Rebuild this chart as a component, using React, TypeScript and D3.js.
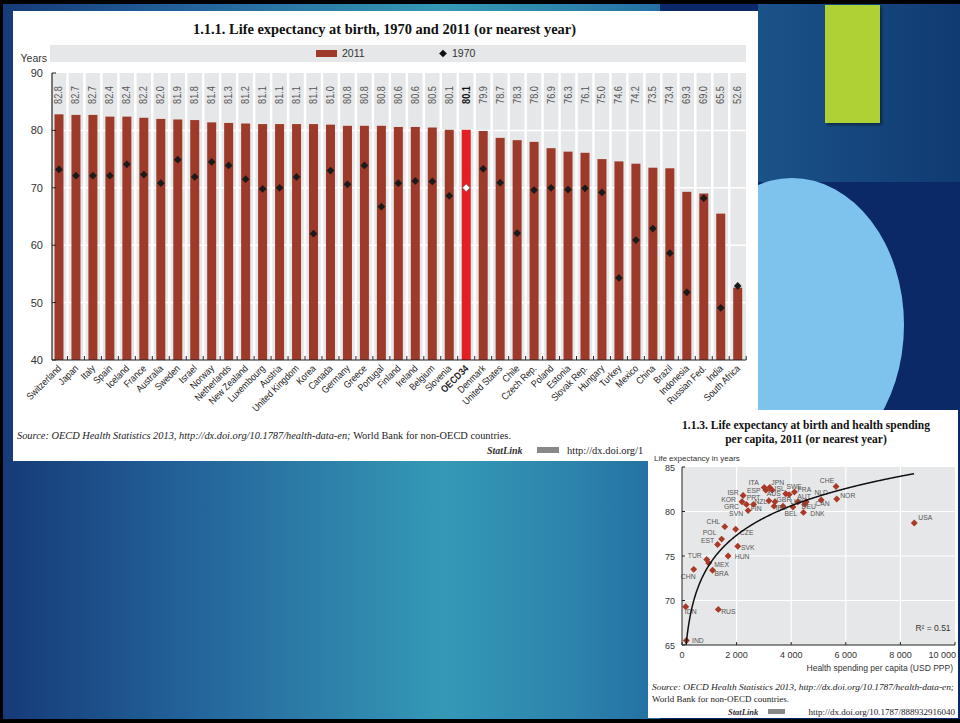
import React from 'react';
import * as d3 from 'd3';

const countries = ['Switzerland','Japan','Italy','Spain','Iceland','France','Australia','Sweden','Israel','Norway','Netherlands','New Zealand','Luxembourg','Austria','United Kingdom','Korea','Canada','Germany','Greece','Portugal','Finland','Ireland','Belgium','Slovenia','OECD34','Denmark','United States','Chile','Czech Rep.','Poland','Estonia','Slovak Rep.','Hungary','Turkey','Mexico','China','Brazil','Indonesia','Russian Fed.','India','South Africa'];
const lifeExp2011 = [82.8,82.7,82.7,82.4,82.4,82.2,82.0,81.9,81.8,81.4,81.3,81.2,81.1,81.1,81.1,81.1,81.0,80.8,80.8,80.8,80.6,80.6,80.5,80.1,80.1,79.9,78.7,78.3,78.0,76.9,76.3,76.1,75.0,74.6,74.2,73.5,73.4,69.3,69.0,65.5,52.6];
const lifeExp1970 = [73.2,72.1,72.1,72.1,74.1,72.3,70.8,74.9,71.9,74.5,73.9,71.5,69.8,70.0,71.9,62.0,73.0,70.6,73.9,66.7,70.8,71.2,71.1,68.6,70.0,73.3,70.9,62.1,69.6,70.0,69.7,69.9,69.2,54.3,60.9,62.9,58.6,51.8,68.2,49.1,52.9];
const barYTicks = [40,50,60,70,80,90];
const highlight = 'OECD34';

const scatterCodes = ['USA','NOR','CHE','NLD','AUT','CAN','DEU','DNK','LUX','FRA','BEL','SWE','AUS','JPN','IRL','ISL','GBR','FIN','NZL','ITA','ESP','SVN','PRT','GRC','ISR','KOR','CZE','SVK','HUN','CHL','POL','EST','TUR','MEX','BRA','CHN','RUS','IDN','IND'];
const healthSpending = [8508,5669,5643,5099,4546,4522,4495,4448,4246,4118,4061,3925,3800,3213,3700,3305,3405,3374,3182,3012,3072,2421,2619,2361,2239,2198,1966,2042,1689,1568,1452,1303,906,977,1120,430,1330,136,160];
const scatterLifeExp = [78.7,81.4,82.8,81.3,81.1,81.0,80.8,79.9,81.1,82.2,80.5,81.9,82.0,82.7,80.6,82.4,81.1,80.6,81.2,82.7,82.4,80.1,80.8,80.8,81.8,81.1,78.0,76.1,75.0,78.3,76.9,76.3,74.6,74.2,73.4,73.5,69.0,69.3,65.5];
const scatterXTicks = [0,2000,4000,6000,8000,10000];
const scatterYTicks = [65,70,75,80,85];
// logarithmic trend: LE = intercept + slope * ln(spending)
const trendIntercept = 41.0;
const trendSlope = 4.78;
const trendDomain = [100, 8520];

// label placement (layout only)
const labelOffsets: Record<string, [number, number]> = {
  USA:[11,-6], NOR:[11,-4], CHE:[-9,-6], NLD:[0,-7], AUT:[-2,-5], CAN:[17,1], DEU:[4,2], DNK:[14,1.5], LUX:[-1,0], FRA:[10,-2],
  BEL:[-2,6], SWE:[5,-8.5], AUS:[-12,0], JPN:[8,-4.5], IRL:[-2,1], ISL:[7.5,-2], GBR:[9,-2], FIN:[-18,2], NZL:[-8,1], ITA:[-10.5,-4.5],
  ESP:[-12,0.5], SVN:[-12,2.5], PRT:[0,-6.5], GRC:[-15,2], ISR:[-10,-3], KOR:[-13.5,-2], CZE:[11,3.5], SVK:[10,1], HUN:[14,0], CHL:[-11.5,-5],
  POL:[-12,-6.5], EST:[-10,-4], TUR:[-12,-4.5], MEX:[13,1.5], BRA:[9,3], CHN:[-5.5,7], RUS:[10,2.5], IDN:[5,5], IND:[11.5,0],
};

const SANS = "'Liberation Sans', Arial, sans-serif";
const SERIF = "'Liberation Serif', 'DejaVu Serif', serif";
const BAR = '#9d3a2a';
const RED = '#e31e24';
const GRAY = '#e6e7e8';

const spaceFmt = d3.formatLocale({ decimal: '.', thousands: ' ', grouping: [3], currency: ['', ''] }).format(',');

function BarChart() {
  const x = d3.scaleBand<string>().domain(countries).range([50.5, 746.2]).padding(0);
  const y = d3.scaleLinear().domain([40, 90]).range([360, 73]);
  const bw = 9;
  const diamond = d3.symbol().type(d3.symbolSquare).size(30)();
  const bounds = countries.map((c) => x(c)!).concat([x.range()[1]]);
  return (
    <g>
      <defs>
        <clipPath id="urlclip"><rect x={13} y={440} width={635} height={20} /></clipPath>
      </defs>
      <rect x={13} y={11} width={745} height={450} fill="#fff" />
      <text x={193} y={34} fontFamily={SERIF} fontWeight="bold" fontSize={14} textLength={383} lengthAdjust="spacingAndGlyphs" fill="#111">1.1.1.  Life expectancy at birth, 1970 and 2011 (or nearest year)</text>
      <rect x={50} y={45} width={696} height={17} fill={GRAY} />
      <rect x={316} y={50} width={21} height={7} fill={BAR} />
      <text x={342} y={57} fontFamily={SANS} fontSize={10.5} fill="#333">2011</text>
      <path d={diamond} transform="translate(443,53.5) rotate(45)" fill="#111" />
      <text x={452} y={57} fontFamily={SANS} fontSize={10.5} fill="#333">1970</text>
      <text x={47} y={62} textAnchor="end" fontFamily={SANS} fontSize={10.5} fill="#333">Years</text>
      <rect x={52} y={73} width={694} height={287} fill={GRAY} />
      {bounds.slice(1, -1).map((b, i) => (
        <line key={'v' + i} x1={b} x2={b} y1={73} y2={360} stroke="#fff" strokeWidth={2.5} />
      ))}
      {barYTicks.filter((t) => t > 40 && t < 90).map((t) => (
        <line key={'h' + t} x1={52} x2={746} y1={y(t)} y2={y(t)} stroke="#fff" strokeWidth={1.5} />
      ))}
      {countries.map((c, i) => (
        <rect key={c} x={x(c)! + x.bandwidth() / 2 - bw / 2} y={y(lifeExp2011[i])} width={bw} height={y(40) - y(lifeExp2011[i])} fill={c === highlight ? RED : BAR} />
      ))}
      {countries.map((c, i) => (
        <path key={'d' + c} d={diamond} transform={`translate(${x(c)! + x.bandwidth() / 2},${y(lifeExp1970[i])}) rotate(45)`} fill={c === highlight ? '#fff' : '#1a1a1a'} stroke={c === highlight ? '#555' : 'none'} strokeWidth={0.6} />
      ))}
      {countries.map((c, i) => (
        <text key={'t' + c} transform={`translate(${x(c)! + x.bandwidth() / 2 + 3.5},95) rotate(-90) scale(0.92,1)`} textAnchor="middle" fontFamily={SANS} fontSize={10} fontWeight={c === highlight ? 'bold' : 'normal'} fill={c === highlight ? '#111' : '#555'}>
          {d3.format('.1f')(lifeExp2011[i])}
        </text>
      ))}
      <line x1={52} x2={52} y1={73} y2={360} stroke="#222" strokeWidth={1.2} />
      <line x1={52} x2={746} y1={360} y2={360} stroke="#222" strokeWidth={1.2} />
      {barYTicks.map((t) => (
        <g key={'yt' + t}>
          <line x1={52} x2={56} y1={y(t)} y2={y(t)} stroke="#222" strokeWidth={1} />
          <text x={43} y={y(t) + 4} textAnchor="end" fontFamily={SANS} fontSize={11} fill="#333">{t}</text>
        </g>
      ))}
      {bounds.slice(1).map((b, i) => (
        <line key={'xt' + i} x1={b} x2={b} y1={356} y2={360} stroke="#222" strokeWidth={1} />
      ))}
      {countries.map((c) => (
        <text key={'xl' + c} transform={`translate(${x(c)! + x.bandwidth() / 2 + 3},369) rotate(-45) scale(0.88,1)`} textAnchor="end" fontFamily={SANS} fontSize={9.8} fontWeight={c === highlight ? 'bold' : 'normal'} fill="#222">{c}</text>
      ))}
      <text x={17} y={439} fontFamily={SERIF} fontSize={10.5} fill="#222" textLength={494} lengthAdjust="spacingAndGlyphs">
        <tspan fontStyle="italic">Source:  OECD Health Statistics 2013, http://dx.doi.org/10.1787/health-data-en; </tspan>
        <tspan>World Bank for non-OECD countries.</tspan>
      </text>
      <text x={487} y={454} fontFamily={SERIF} fontSize={10} fontStyle="italic" fontWeight="bold" fill="#333">StatLink</text>
      <rect x={537} y={447} width={22} height={6} fill="#888" />
      <text x={567} y={454} fontFamily={SERIF} fontSize={10.5} fill="#222" clipPath="url(#urlclip)">http://dx.doi.org/1</text>
    </g>
  );
}

function Scatter() {
  const x = d3.scaleLinear().domain([0, 10000]).range([682, 955]);
  const y = d3.scaleLinear().domain([65, 85]).range([645, 467]);
  const xs = d3.range(trendDomain[0], trendDomain[1], 20);
  const line = d3.line<number>().x((v) => x(v)).y((v) => y(trendIntercept + trendSlope * Math.log(v)));
  const diamond = d3.symbol().type(d3.symbolSquare).size(24)();
  return (
    <g>
      <rect x={648} y={410} width={310} height={308} fill="#fff" />
      <text x={806} y={429} textAnchor="middle" fontFamily={SERIF} fontWeight="bold" fontSize={11.5} fill="#111">1.1.3.  Life expectancy at birth and health spending</text>
      <text x={806} y={443} textAnchor="middle" fontFamily={SERIF} fontWeight="bold" fontSize={11.5} fill="#111">per capita, 2011 (or nearest year)</text>
      <text x={654} y={461} fontFamily={SANS} fontSize={8} fill="#333">Life expectancy in years</text>
      <defs>
        <clipPath id="sclip"><rect x={682} y={460} width={273} height={185} /></clipPath>
      </defs>
      <rect x={682} y={467} width={273} height={178} fill={GRAY} />
      {scatterXTicks.slice(1, -1).map((t) => (
        <line key={'gx' + t} x1={x(t)} x2={x(t)} y1={467} y2={645} stroke="#fff" strokeWidth={1.2} />
      ))}
      {scatterYTicks.slice(1, -1).map((t) => (
        <line key={'gy' + t} x1={682} x2={955} y1={y(t)} y2={y(t)} stroke="#fff" strokeWidth={1.2} />
      ))}
      {scatterCodes.map((c, i) => (
        <path key={c} d={diamond} transform={`translate(${x(healthSpending[i])},${y(scatterLifeExp[i])}) rotate(45)`} fill="#a83a27" />
      ))}
      {scatterCodes.map((c, i) => (
        <text key={'l' + c} x={x(healthSpending[i]) + labelOffsets[c][0]} y={y(scatterLifeExp[i]) + labelOffsets[c][1] + 2.5} textAnchor="middle" fontFamily={SANS} fontSize={6.8} fill="#555">{c}</text>
      ))}
      <path d={line(xs) || ''} fill="none" stroke="#111" strokeWidth={1.5} clipPath="url(#sclip)" />
      <line x1={682} x2={682} y1={467} y2={645} stroke="#222" strokeWidth={1} />
      <line x1={682} x2={955} y1={645} y2={645} stroke="#222" strokeWidth={1} />
      {scatterYTicks.map((t) => (
        <g key={'yt' + t}>
          <line x1={682} x2={685} y1={y(t)} y2={y(t)} stroke="#222" />
          <text x={675} y={y(t) + 3.5} textAnchor="end" fontFamily={SANS} fontSize={9} fill="#333">{t}</text>
        </g>
      ))}
      {scatterXTicks.map((t, i) => (
        <g key={'xt' + t}>
          <line x1={x(t)} x2={x(t)} y1={642} y2={645} stroke="#222" />
          <text x={i === scatterXTicks.length - 1 ? 956 : x(t)} y={658} textAnchor={i === scatterXTicks.length - 1 ? 'end' : 'middle'} fontFamily={SANS} fontSize={9} fill="#333">{spaceFmt(t)}</text>
        </g>
      ))}
      <text x={933} y={631} textAnchor="middle" fontFamily={SANS} fontSize={8.5} fill="#333">R² = 0.51</text>
      <text x={953} y={671} textAnchor="end" fontFamily={SANS} fontSize={8.5} fill="#333">Health spending per capita (USD PPP)</text>
      <text x={652} y={690} fontFamily={SERIF} fontSize={9} fill="#222" fontStyle="italic" textLength={302} lengthAdjust="spacingAndGlyphs">Source:  OECD Health Statistics 2013, http://dx.doi.org/10.1787/health-data-en;</text>
      <text x={652} y={702} fontFamily={SERIF} fontSize={9} fill="#222">World Bank for non-OECD countries.</text>
      <text x={728} y={715} fontFamily={SERIF} fontSize={8.5} fontStyle="italic" fontWeight="bold" fill="#333">StatLink</text>
      <rect x={768} y={709} width={17} height={5} fill="#888" />
      <text x={955} y={715} textAnchor="end" fontFamily={SERIF} fontSize={9} fill="#222">http://dx.doi.org/10.1787/888932916040</text>
    </g>
  );
}

export default function App() {
  return (
    <svg width={960} height={723} style={{ position: 'absolute', left: 0, top: 0, display: 'block' }}>
      <defs>
        <linearGradient id="bgLeft" x1="0" x2="1" y1="0" y2="0">
          <stop offset="0" stopColor="#153a78" />
          <stop offset="0.3" stopColor="#24659b" />
          <stop offset="0.67" stopColor="#3599b6" />
          <stop offset="0.88" stopColor="#2c82ac" />
          <stop offset="1" stopColor="#236fa2" />
        </linearGradient>
        <linearGradient id="bgTopRight" x1="0" x2="1" y1="0" y2="0">
          <stop offset="0" stopColor="#1a5388" />
          <stop offset="1" stopColor="#103a72" />
        </linearGradient>
        <filter id="shadow" x="-20%" y="-20%" width="150%" height="150%">
          <feDropShadow dx="2" dy="2" stdDeviation="1.5" floodColor="#000" floodOpacity="0.45" />
        </filter>
      </defs>
      <rect x={0} y={0} width={960} height={723} fill="#0a2966" />
      <rect x={0} y={0} width={660} height={723} fill="url(#bgLeft)" />
      <rect x={758} y={0} width={202} height={182} fill="url(#bgTopRight)" />
      <rect x={825} y={5} width={55} height={118} fill="#aed236" filter="url(#shadow)" />
      <ellipse cx={792} cy={325} rx={112} ry={147} fill="#7dc3ee" />
      <BarChart />
      <Scatter />
      <rect x={0} y={0} width={960} height={4} fill="#000" />
      <rect x={0} y={719} width={960} height={4} fill="#000" />
      <rect x={0} y={0} width={3} height={723} fill="#000" />
    </svg>
  );
}
